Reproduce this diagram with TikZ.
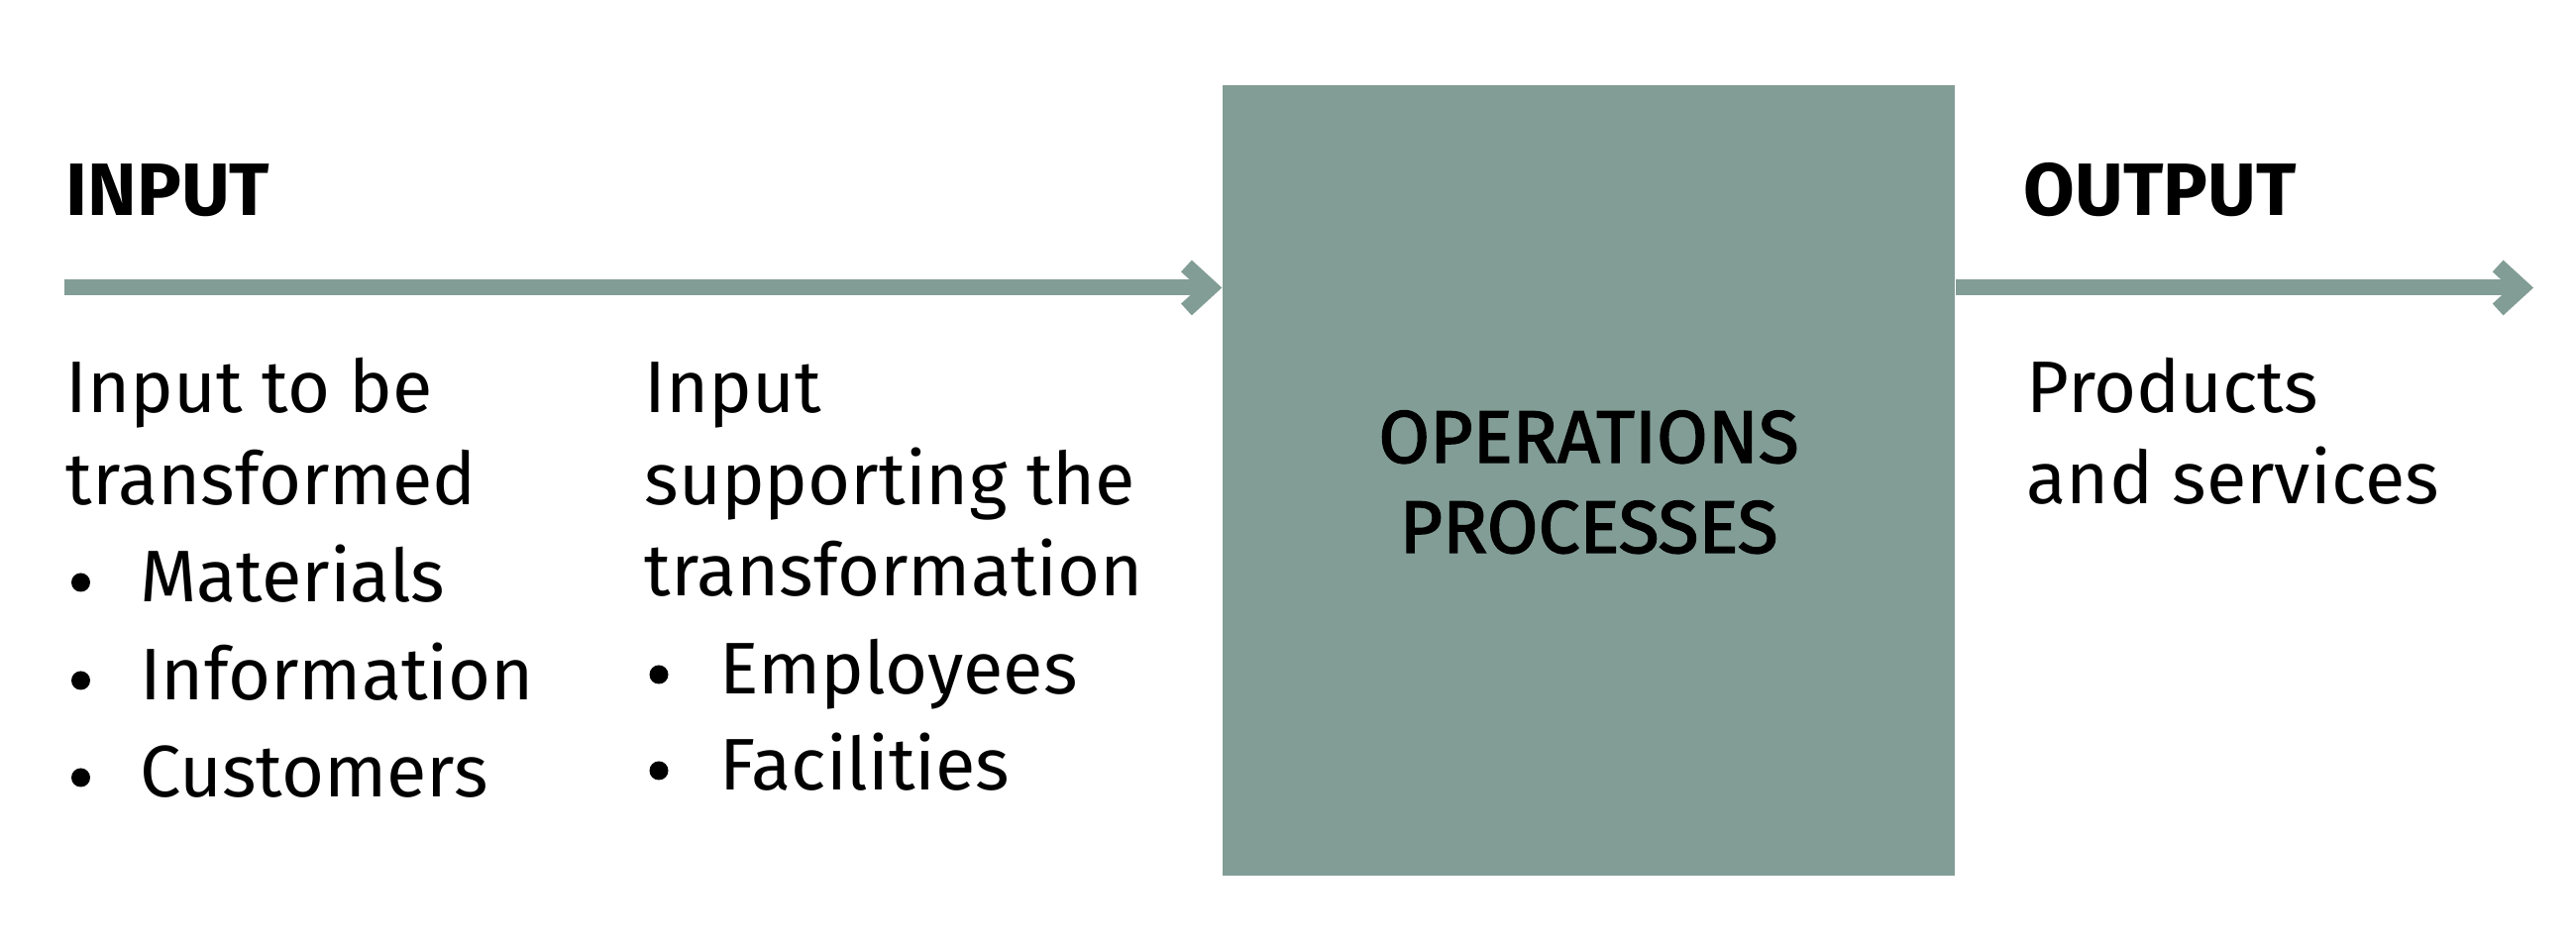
\documentclass[tikz,border=0pt]{standalone}
\usepackage{fontspec}
\setmainfont{Fira Sans}
\newfontfamily\opsfont{Fira Sans}[FakeBold=2]
\usetikzlibrary{arrows.meta}
\definecolor{opsgreen}{HTML}{829D95}
\tikzset{
  flow/.style={line width=0.16cm, draw=opsgreen, -{Straight Barb[length=0.24cm,width=0.44cm]}},
  txt/.style={anchor=base west, inner sep=0pt, font=\fontsize{21}{25}\selectfont},
  head/.style={txt, font=\fontsize{21.3}{25}\selectfont\bfseries},
}
\begin{document}
\begin{tikzpicture}
                    \useasboundingbox (0.000000,0.000000) rectangle (26.000000,9.530000);
                    
                    % Drawing box operations processes
                    \node [fill=opsgreen, minimum width=7.390000cm, minimum height=7.980000cm, inner sep=0pt] (ops) at (16.035000,4.680000) {};%
                    \node [txt, anchor=base, font=\fontsize{21.3}{25}\opsfont] (opsa) at (16.035000,4.860000) {OPERATIONS};%
                    \node [txt, anchor=base, font=\fontsize{21.3}{25}\opsfont] (opsb) at (16.035000,3.950000) {PROCESSES};%
                    
                    % Drawing arrow input
                    \coordinate (instart) at (0.650000,6.625000);%
                    \draw [flow] (instart) -- (instart -| ops.west);%
                    
                    % Drawing arrow output
                    \coordinate (outend) at (25.570000,6.625000);%
                    \draw [flow] (outend -| ops.east) -- (outend);%
                    
                    % Marking headings
                    \node [head] (inhead) at (0.660000,7.355000) {INPUT};%
                    \node [head] (outhead) at (20.420000,7.355000) {OUTPUT};%
                    
                    % Marking input to be transformed
                    \node [txt] (ina) at (0.660000,5.360000) {Input to be};%
                    \node [txt] (inb) at (0.660000,4.430000) {transformed};%
                    \fill (0.815000,3.650000) circle (0.095000);%
                    \node [txt] (inc) at (1.405000,3.450000) {Materials};%
                    \fill (0.815000,2.660000) circle (0.095000);%
                    \node [txt] (ind) at (1.405000,2.460000) {Information};%
                    \fill (0.815000,1.680000) circle (0.095000);%
                    \node [txt] (ine) at (1.405000,1.480000) {Customers};%
                    
                    % Marking input supporting the transformation
                    \node [txt] (supa) at (6.500000,5.360000) {Input};%
                    \node [txt] (supb) at (6.500000,4.430000) {supporting the};%
                    \node [txt] (supc) at (6.500000,3.510000) {transformation};%
                    \fill (6.650000,2.720000) circle (0.095000);%
                    \node [txt] (supd) at (7.260000,2.520000) {Employees};%
                    \fill (6.650000,1.750000) circle (0.095000);%
                    \node [txt] (supe) at (7.260000,1.550000) {Facilities};%
                    
                    % Marking products and services
                    \node [txt] (outa) at (20.450000,5.360000) {Products};%
                    \node [txt] (outb) at (20.450000,4.440000) {and services};%
\end{tikzpicture}
\end{document}
